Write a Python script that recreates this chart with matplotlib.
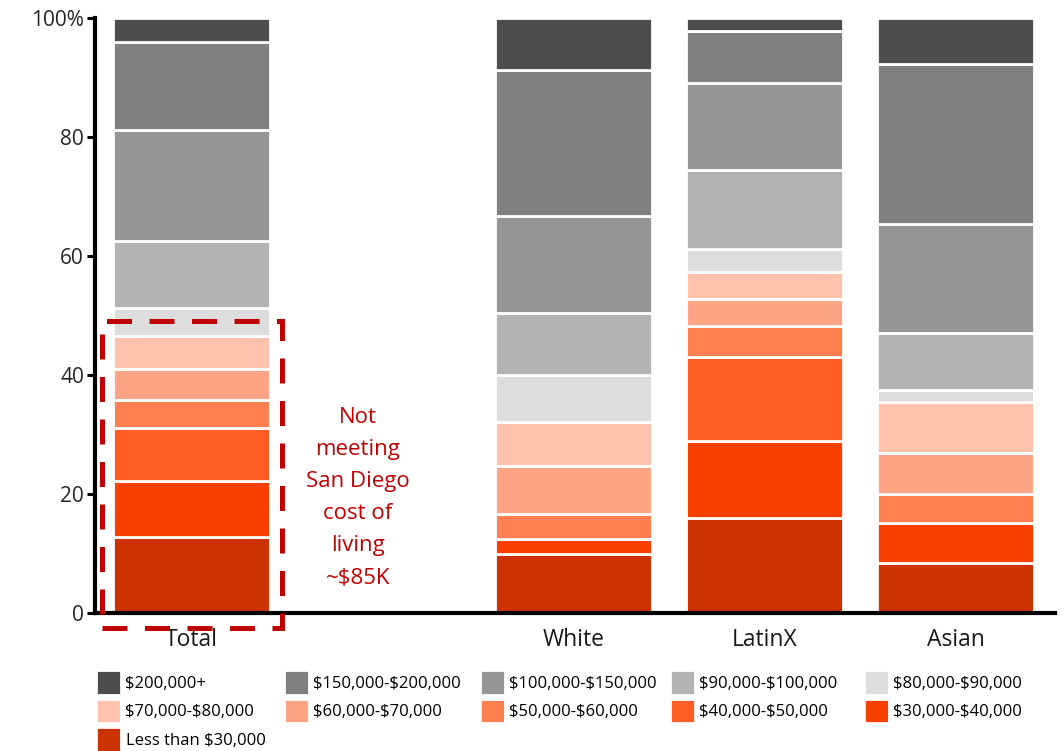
import matplotlib.pyplot as plt
from matplotlib.patches import Rectangle

# categories (blank slot between Total and the groups)
groups = ['Total', '', 'White', 'LatinX', 'Asian']
xpos = [0, 2, 3, 4]
xlabels = ['Total', 'White', 'LatinX', 'Asian']

# income brackets, bottom to top
brackets = ['Less than $30,000', '$30,000-$40,000', '$40,000-$50,000', '$50,000-$60,000',
            '$60,000-$70,000', '$70,000-$80,000', '$80,000-$90,000', '$90,000-$100,000',
            '$100,000-$150,000', '$150,000-$200,000', '$200,000+']
colors = ['#CC3300', '#F84000', '#FF5C26', '#FF7F50', '#FFA586', '#FFC2AD',
          '#DDDDDD', '#B2B2B2', '#969696', '#808080', '#4D4D4D']

# percent shares per bracket, bottom to top
total = [12.8, 9.4, 8.9, 4.7, 5.2, 5.6, 4.7, 11.2, 18.7, 14.8, 4.0]
white = [9.9, 2.5, 0.0, 4.2, 8.1, 7.4, 7.9, 10.4, 16.3, 24.6, 8.7]
latinx = [16.0, 12.9, 14.1, 5.2, 4.6, 4.5, 3.9, 13.3, 14.6, 8.7, 2.2]
asian = [8.4, 6.7, 0.0, 4.9, 6.9, 8.6, 2.0, 9.6, 18.3, 26.9, 7.7]

yticks = [0, 20, 40, 60, 80, 100]
yticklabels = ['0', '20', '40', '60', '80', '100%']

note = 'Not\nmeeting\nSan Diego\ncost of\nliving\n~\\$85K'
red = '#C00000'
fonts = ['Open Sans', 'DejaVu Sans']


def esc(s):
    return s.replace('$', r'\$')


fig = plt.figure(figsize=(10.64, 7.51), dpi=100)
ax = fig.add_axes([0.0893, 0.1838, 0.9022, 0.7922])

series = list(zip(total, white, latinx, asian))
bottoms = [0.0] * len(xpos)
handles = []
for vals, col, lab in zip(series, colors, brackets):
    h = ax.bar(xpos, vals, width=0.82, bottom=bottoms, color=col,
               edgecolor='white', linewidth=2, label=esc(lab))
    handles.append(h)
    bottoms = [b + v for b, v in zip(bottoms, vals)]

ax.set_xlim(-0.505, 4.52)
ax.set_ylim(0, 100)
ax.set_yticks(yticks)
ax.set_yticklabels(yticklabels)
ax.set_xticks(xpos)
ax.set_xticklabels(xlabels)
for lab in ax.get_yticklabels():
    lab.set_fontfamily(fonts)
    lab.set_fontsize(15)
    lab.set_color('#262626')
for lab in ax.get_xticklabels():
    lab.set_fontfamily(fonts)
    lab.set_fontsize(16.5)
    lab.set_color('#1a1a1a')
ax.tick_params(axis='y', length=6, width=2.2, pad=2, direction='out')
ax.tick_params(axis='x', length=0, pad=11)
for side in ['top', 'right']:
    ax.spines[side].set_visible(False)
for side in ['left', 'bottom']:
    ax.spines[side].set_linewidth(3)
    ax.spines[side].set_color('black')

# dashed box around the groups below cost of living
box = Rectangle((-0.47, -2.5), 0.945, 51.6, fill=False, edgecolor=red,
                linewidth=3.6, linestyle=(0, (5, 3.5)), clip_on=False, zorder=5)
ax.add_patch(box)
ax.text(0.87, 19.4, note, color=red, ha='center', va='center', fontsize=16,
        linespacing=1.70, family=fonts)

# legend laid out row-wise in five columns
legx = [96, 284, 480, 670, 864]
for c in range(5):
    idx = [10 - c, 5 - c]
    if c == 0:
        idx.append(0)
    hs = [handles[i] for i in idx]
    labs = [esc(brackets[i]) for i in idx]
    fig.legend(hs, labs, loc='upper left', bbox_to_anchor=(legx[c] / 1064, (751 - 670) / 751),
               frameon=False, borderpad=0, borderaxespad=0, handlelength=1.49, handleheight=1.92,
               handletextpad=0.28, labelspacing=0.22,
               prop={'family': fonts, 'size': 12})

fig.savefig('out.png', dpi=100)
